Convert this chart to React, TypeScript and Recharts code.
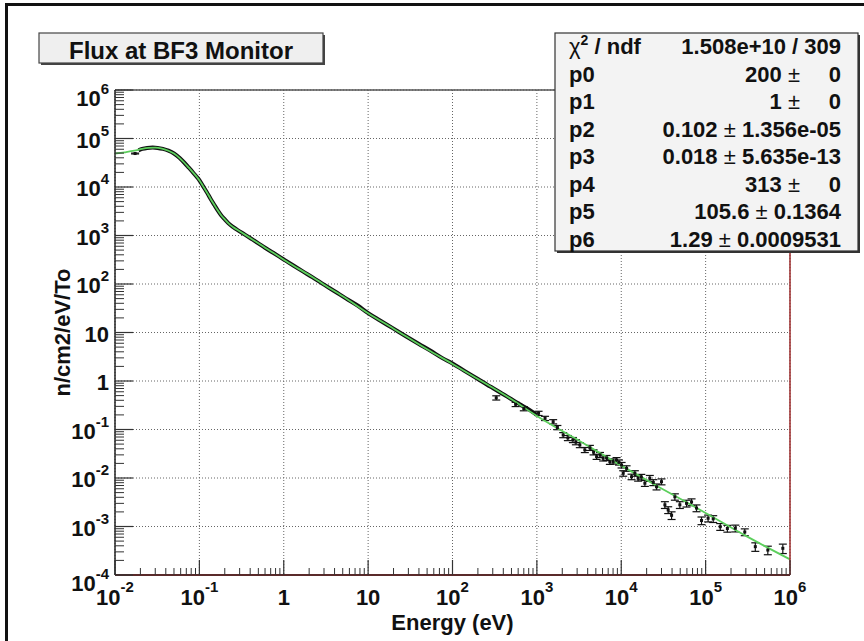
import React from 'react';
import { ComposedChart, XAxis, YAxis, CartesianGrid, Line, Scatter, ErrorBar, Label } from 'recharts';

// ---------- axis ticks ----------
const xDecades = [0.01, 0.1, 1, 10, 100, 1e3, 1e4, 1e5, 1e6];
const xDecadeLabels = [['10', '-2'], ['10', '-1'], ['1', ''], ['10', ''], ['10', '2'], ['10', '3'], ['10', '4'], ['10', '5'], ['10', '6']];
const yDecades = [1e-4, 1e-3, 1e-2, 1e-1, 1, 10, 100, 1e3, 1e4, 1e5, 1e6];
const yDecadeLabels = [['10', '-4'], ['10', '-3'], ['10', '-2'], ['10', '-1'], ['1', ''], ['10', ''], ['10', '2'], ['10', '3'], ['10', '4'], ['10', '5'], ['10', '6']];
const minorMultipliers = [2, 3, 4, 5, 6, 7, 8, 9];

// ---------- measured spectrum (dense region, drawn as a thick band) ----------
const denseEnergy = [0.019, 0.021, 0.024, 0.028, 0.032, 0.037, 0.043, 0.05, 0.058, 0.066, 0.075, 0.085, 0.095, 0.1, 0.111, 0.122, 0.135, 0.15, 0.165, 0.18, 0.2, 0.22, 0.25, 0.3, 0.35, 0.42, 0.5, 0.6, 0.75, 1, 1.3, 1.7, 2.2, 3, 4, 5.5, 7.5, 10, 14, 20, 28, 40, 55, 75, 100, 140, 200, 260, 300, 380, 450, 550, 650, 800, 1000];
const denseFlux = [5.7e4, 6.1e4, 6.4e4, 6.5e4, 6.4e4, 6.1e4, 5.6e4, 4.9e4, 4.0e4, 3.2e4, 2.5e4, 1.95e4, 1.55e4, 1.38e4, 1.03e4, 7.9e3, 5.8e3, 4.3e3, 3.3e3, 2.65e3, 2.15e3, 1.8e3, 1.5e3, 1.22e3, 1.03e3, 840, 690, 560, 440, 320, 240, 180, 137, 97, 71, 50, 36, 25, 17.5, 12, 8.4, 5.8, 4.2, 3.0, 2.3, 1.6, 1.1, 0.83, 0.72, 0.56, 0.47, 0.38, 0.32, 0.26, 0.2];

// ---------- measured spectrum (isolated points with error bars) ----------
const sparseEnergy = [0.0173, 330, 560, 700, 1047, 1250, 1560, 1750, 2050, 2330, 2670, 2900, 3230, 3700, 4250, 4700, 5100, 5600, 6100, 6700, 7330, 8000, 8800, 9400, 10090, 10550, 11570, 13250, 14500, 15850, 17300, 19050, 21800, 24000, 26200, 30000, 32900, 36000, 39500, 43200, 49500, 59400, 68100, 78000, 89400, 107000, 123000, 149000, 181000, 225000, 291000, 388000, 546000, 822000];
const sparseFlux = [4.9e4, 0.45, 0.33, 0.27, 0.216, 0.17, 0.145, 0.11, 0.077, 0.067, 0.061, 0.055, 0.048, 0.038, 0.042, 0.034, 0.0275, 0.03, 0.0255, 0.026, 0.0217, 0.022, 0.0235, 0.021, 0.0185, 0.0125, 0.0158, 0.0106, 0.0125, 0.0099, 0.0105, 0.0078, 0.0099, 0.0081, 0.0066, 0.0084, 0.0028, 0.0022, 0.0017, 0.0041, 0.0028, 0.003, 0.0032, 0.0024, 0.00133, 0.00148, 0.00144, 0.00099, 0.00091, 0.00092, 0.00077, 0.000384, 0.000327, 0.000355];
const sparseRelErr = [0.02, 0.1, 0.1, 0.1, 0.1, 0.1, 0.1, 0.1, 0.12, 0.12, 0.12, 0.12, 0.12, 0.12, 0.12, 0.12, 0.12, 0.12, 0.12, 0.12, 0.12, 0.12, 0.12, 0.12, 0.13, 0.13, 0.13, 0.13, 0.13, 0.13, 0.13, 0.14, 0.14, 0.14, 0.14, 0.14, 0.16, 0.16, 0.18, 0.15, 0.16, 0.16, 0.16, 0.16, 0.18, 0.16, 0.16, 0.16, 0.16, 0.16, 0.16, 0.2, 0.2, 0.22];

// ---------- fit curve ----------
const fitEnergy = [0.01, 0.013, 0.017, 0.021, 0.025, 0.03, 0.036, 0.043, 0.05, 0.058, 0.066, 0.075, 0.085, 0.095, 0.1, 0.111, 0.122, 0.135, 0.15, 0.165, 0.18, 0.2, 0.22, 0.25, 0.3, 0.35, 0.42, 0.5, 0.6, 0.75, 1, 1.5, 2.2, 3, 5, 10, 20, 50, 100, 200, 500, 1e3, 3e3, 1e4, 3e4, 1e5, 3e5, 1e6];
const fitFlux = [4.9e4, 5.2e4, 5.6e4, 6.1e4, 6.4e4, 6.5e4, 6.2e4, 5.6e4, 4.9e4, 4.0e4, 3.2e4, 2.5e4, 1.95e4, 1.55e4, 1.38e4, 1.03e4, 7.9e3, 5.8e3, 4.3e3, 3.3e3, 2.65e3, 2.15e3, 1.8e3, 1.5e3, 1.22e3, 1.03e3, 840, 690, 560, 440, 315, 205, 138, 97, 56, 25, 12, 4.5, 2.25, 1.1, 0.42, 0.19, 0.062, 0.018, 0.0061, 0.0019, 0.00064, 0.00021];

// ---------- text ----------
const plotTitle = 'Flux at BF3 Monitor';
const xTitle = 'Energy (eV)';
const yTitle = 'n/cm2/eV/To';
const statsNames = ['p0', 'p1', 'p2', 'p3', 'p4', 'p5', 'p6'];
const statsValues = ['200', '1', '0.102', '0.018', '313', '105.6', '1.29'];
const statsErrors = ['0', '0', '1.356e-05', '5.635e-13', '0', '0.1364', '0.0009531'];
const chiValue = '1.508e+10 / 309';

const denseData = denseEnergy.map((e, i) => ({ e, f: denseFlux[i] }));
const sparseData = sparseEnergy.map((e, i) => ({ e, f: sparseFlux[i], err: sparseFlux[i] * sparseRelErr[i] }));
const fitData = fitEnergy.map((e, i) => ({ e, f: fitFlux[i] }));

const xMinor = xDecades.slice(0, -1).flatMap((d) => minorMultipliers.map((m) => m * d));
const yMinor = yDecades.slice(0, -1).flatMap((d) => minorMultipliers.map((m) => m * d));
const xTicks = [...xDecades, ...xMinor].sort((a, b) => a - b);
const yTicks = [...yDecades, ...yMinor].sort((a, b) => a - b);

const FONT = '"Liberation Sans", Arial, Helvetica, sans-serif';
const TICK_COLOR = '#333';

const XTick = (props: any) => {
  const { x, y, payload } = props;
  const idx = xDecades.indexOf(payload.value);
  if (idx < 0) {
    return <line x1={x} x2={x} y1={y} y2={y - 7} stroke={TICK_COLOR} strokeWidth={1} />;
  }
  const [base, exp] = xDecadeLabels[idx];
  return (
    <g>
      <line x1={x} x2={x} y1={y} y2={y - 15} stroke={TICK_COLOR} strokeWidth={1.2} />
      <text x={x} y={y + 30} textAnchor="middle" fontSize={22} fontWeight="bold" fill="#111" fontFamily={FONT}>
        {base}
        {exp ? <tspan dy={-13} fontSize={15}>{exp}</tspan> : null}
      </text>
    </g>
  );
};

const YTick = (props: any) => {
  const { x, y, payload } = props;
  const idx = yDecades.indexOf(payload.value);
  if (idx < 0) {
    return <line x1={x} x2={x + 9} y1={y} y2={y} stroke={TICK_COLOR} strokeWidth={1} />;
  }
  const [base, exp] = yDecadeLabels[idx];
  const edge = idx === 0 || idx === yDecades.length - 1;
  return (
    <g>
      <line x1={x} x2={x + 18} y1={y} y2={y} stroke={TICK_COLOR} strokeWidth={1.2} />
      <text x={x - 6} y={y + (edge ? 16 : 9)} textAnchor="end" fontSize={22} fontWeight="bold" fill="#111" fontFamily={FONT}>
        {base}
        {exp ? <tspan dy={-12} fontSize={15}>{exp}</tspan> : null}
      </text>
    </g>
  );
};

const XTitle = (props: any) => {
  const vb = props.viewBox || {};
  return (
    <text x={vb.x + vb.width / 2} y={vb.y + 55} textAnchor="middle" fontSize={22} fontWeight="bold" fill="#111" fontFamily={FONT}>
      {xTitle}
    </text>
  );
};

const YTitle = (props: any) => {
  const vb = props.viewBox || {};
  const cx = vb.x + vb.width - 45;
  const cy = vb.y + vb.height / 2;
  return (
    <text x={cx} y={cy} transform={`rotate(-90, ${cx}, ${cy})`} textAnchor="middle" fontSize={22} fontWeight="bold" fill="#111" fontFamily={FONT}>
      {yTitle}
    </text>
  );
};

const Marker = (props: any) => {
  const { cx, cy } = props;
  if (cx == null || cy == null) return null;
  return <rect x={cx - 1.5} y={cy - 1.5} width={3} height={3} fill="#111" />;
};

const rowBaselines = [54, 81.5, 109, 136.5, 164, 191.5, 219, 246.5];

export default function App() {
  return (
    <div style={{ position: 'relative', width: 864, height: 641, background: '#fff' }}>
      <style>{'body{margin:0;background:#fff}'}</style>
      <ComposedChart width={864} height={641} margin={{ top: 80, right: 64, bottom: 36, left: 55 }}>
        <CartesianGrid
          xAxisId="x"
          yAxisId="y"
          verticalValues={xDecades}
          horizontalValues={yDecades}
          stroke="#666"
          strokeDasharray="1 2"
          strokeWidth={1}
        />
        <XAxis
          xAxisId="x"
          dataKey="e"
          type="number"
          scale="log"
          domain={[0.01, 1e6]}
          allowDataOverflow
          ticks={xTicks}
          interval={0}
          tick={<XTick />}
          tickLine={false}
          tickSize={0}
          tickMargin={0}
          height={30}
          axisLine={{ stroke: '#5a2a2a', strokeWidth: 2 }}
          label={<Label content={<XTitle />} />}
        />
        <XAxis
          xAxisId="t"
          orientation="top"
          type="number"
          scale="log"
          domain={[0.01, 1e6]}
          allowDataOverflow
          tick={false}
          tickLine={false}
          height={10}
          axisLine={{ stroke: '#555', strokeWidth: 1.5 }}
        />
        <YAxis
          yAxisId="y"
          dataKey="f"
          type="number"
          scale="log"
          domain={[1e-4, 1e6]}
          allowDataOverflow
          ticks={yTicks}
          interval={0}
          tick={<YTick />}
          tickLine={false}
          tickSize={0}
          tickMargin={0}
          width={60}
          axisLine={{ stroke: '#222', strokeWidth: 1.5 }}
          label={<Label content={<YTitle />} />}
        />
        <YAxis
          yAxisId="r"
          orientation="right"
          type="number"
          scale="log"
          domain={[1e-4, 1e6]}
          allowDataOverflow
          tick={false}
          tickLine={false}
          width={10}
          axisLine={{ stroke: '#9b2a2a', strokeWidth: 1.5 }}
        />
        <Line
          xAxisId="x"
          yAxisId="y"
          data={denseData}
          dataKey="f"
          type="monotone"
          stroke="#111"
          strokeWidth={4}
          dot={false}
          isAnimationActive={false}
        />
        <Scatter
          xAxisId="x"
          yAxisId="y"
          data={sparseData}
          dataKey="f"
          fill="#111"
          shape={<Marker />}
          isAnimationActive={false}
        >
          <ErrorBar dataKey="err" direction="y" width={4} stroke="#111" strokeWidth={1.2} isAnimationActive={false} />
        </Scatter>
        <Line
          xAxisId="x"
          yAxisId="y"
          data={fitData}
          dataKey="f"
          type="monotone"
          stroke="#5ccf5c"
          strokeWidth={1.8}
          dot={false}
          isAnimationActive={false}
        />
      </ComposedChart>

      <svg width={864} height={641} style={{ position: 'absolute', left: 0, top: 0, pointerEvents: 'none' }}>
        <line x1={6.5} y1={3} x2={6.5} y2={641} stroke="#111" strokeWidth={3} />
        <line x1={5} y1={4.5} x2={864} y2={4.5} stroke="#111" strokeWidth={3} />

        <rect x={41} y={35} width={284} height={30} fill="#444" />
        <rect x={39} y={33} width={284} height={30} fill="#efefef" stroke="#444" strokeWidth={1.2} />
        <text x={181} y={59} textAnchor="middle" fontSize={24} fontWeight="bold" fill="#111" fontFamily={FONT}>
          {plotTitle}
        </text>

        <rect x={557} y={35} width={303} height={218} fill="#333" />
        <rect x={555} y={33} width={303} height={218} fill="#f3f3f3" stroke="#333" strokeWidth={1.2} />
        <text x={569} y={rowBaselines[0]} fontSize={22} fontWeight="bold" fill="#111" fontFamily={FONT}>
          <tspan fontWeight="normal">χ</tspan>
          <tspan dy={-9} fontSize={14}>2</tspan>
          <tspan dy={9}> / ndf</tspan>
        </text>
        <text x={841} y={rowBaselines[0]} textAnchor="end" fontSize={22} fontWeight="bold" fill="#111" fontFamily={FONT}>
          {chiValue}
        </text>
        {statsNames.map((name, i) => {
          const yb = rowBaselines[i + 1];
          const err = statsErrors[i];
          return (
            <g key={name}>
              <text x={569} y={yb} fontSize={22} fontWeight="bold" fill="#111" fontFamily={FONT}>
                {name}
              </text>
              {err === '0' ? (
                <>
                  <text x={800} y={yb} textAnchor="end" fontSize={22} fontWeight="bold" fill="#111" fontFamily={FONT}>
                    {statsValues[i]}
                    <tspan fontWeight="normal">{' ±'}</tspan>
                  </text>
                  <text x={841} y={yb} textAnchor="end" fontSize={22} fontWeight="bold" fill="#111" fontFamily={FONT}>
                    {err}
                  </text>
                </>
              ) : (
                <text x={841} y={yb} textAnchor="end" fontSize={22} fontWeight="bold" fill="#111" fontFamily={FONT}>
                  {statsValues[i]}
                  <tspan fontWeight="normal">{' ± '}</tspan>
                  {err}
                </text>
              )}
            </g>
          );
        })}
      </svg>
    </div>
  );
}
